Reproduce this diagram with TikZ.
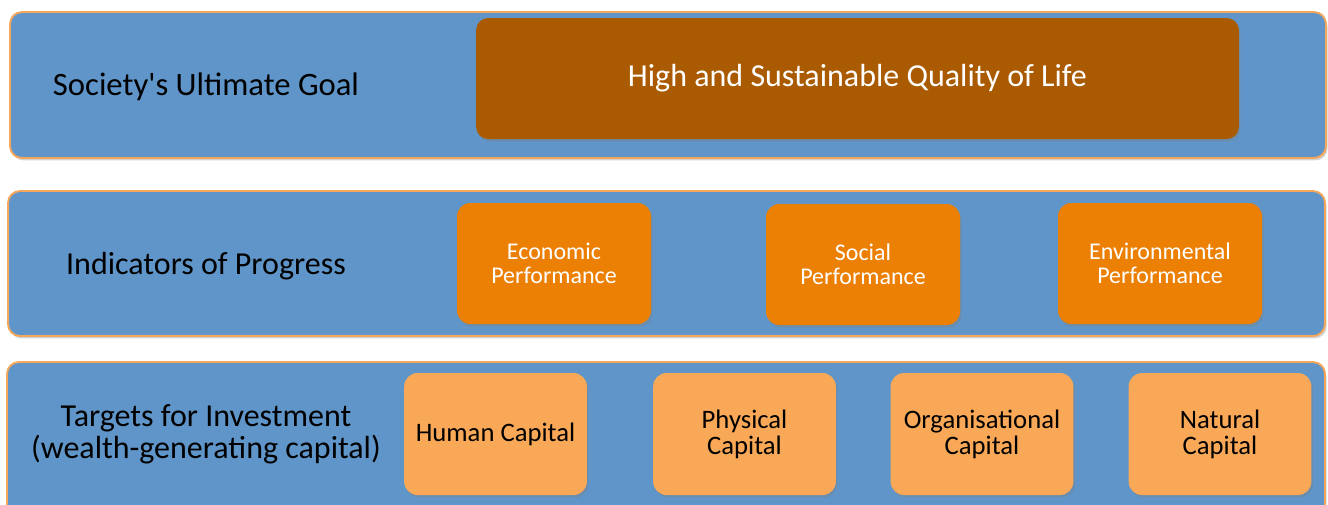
\documentclass[tikz,border=0pt]{standalone}
\usepackage{fontspec}
\setmainfont{Carlito}
\usetikzlibrary{shadows}
\definecolor{bandblue}{HTML}{5F95C8}
\definecolor{bandedge}{HTML}{F6A75A}
\definecolor{goalbrown}{HTML}{AA5A00}
\definecolor{indorange}{HTML}{EC8004}
\definecolor{caporange}{HTML}{F9A857}
\begin{document}
\begin{tikzpicture}[x=0.75pt,y=-0.75pt]
    \tikzstyle{boxshadow}=[drop shadow={shadow xshift=1.2pt,shadow yshift=-1.8pt,opacity=0.35}]
    \tikzstyle{band}=[rectangle,rounded corners=9pt,fill=bandblue,draw=bandedge,line width=1.4pt,boxshadow]
    \tikzstyle{bandlabel}=[align=center,text=black]
    \tikzstyle{goalbox}=[rectangle,rounded corners=9pt,fill=goalbrown,text=white,minimum width=572pt,minimum height=90.75pt,boxshadow,font=\fontsize{24}{29}\selectfont]
    \tikzstyle{indbox}=[rectangle,rounded corners=10pt,fill=indorange,text=white,align=center,minimum height=90.75pt,boxshadow,font=\fontsize{18}{18}\selectfont]
    \tikzstyle{capbox}=[rectangle,rounded corners=10pt,fill=caporange,text=black,align=center,minimum width=137pt,minimum height=91.5pt,boxshadow,font=\fontsize{20}{19.5}\selectfont]
    \useasboundingbox (0, 0) rectangle (1328, 504);
    \clip (0, 0) rectangle (1328, 504);

    % the three bands
    \node at (668, 85)    (goalband) [band,minimum width=987pt,minimum height=109.5pt] {};
    \node at (666.5, 263.5) (indband) [band,minimum width=987.75pt,minimum height=108.75pt] {};
    \node at (666, 442)   (capband) [band,minimum width=988.5pt,minimum height=120pt] {};

    % band labels
    \node at (206, 87)  (goallabel) [bandlabel,font=\fontsize{24.5}{29}\selectfont] {Society\textquotesingle s Ultimate Goal};
    \node at (206, 266) (indlabel) [bandlabel,font=\fontsize{24}{28}\selectfont] {Indicators of Progress};
    \node at (206, 434) (caplabel) [bandlabel,font=\fontsize{24}{24}\selectfont] {Targets for Investment\\(wealth-generating capital)};

    % goal
    \node at (857.5, 78.5) (goal) [goalbox] {High and Sustainable Quality of Life};

    % indicators
    \node at (554, 263.5)  (econ) [indbox,minimum width=145.5pt] {Economic\\Performance};
    \node at (863, 264.5)  (social) [indbox,minimum width=145.5pt] {Social\\Performance};
    \node at (1160, 263.5) (env) [indbox,minimum width=153pt] {Environmental\\Performance};

    % capitals
    \node at (495.5, 434) (human) [capbox] {Human Capital};
    \node at (744.5, 434) (physical) [capbox] {Physical\\Capital};
    \node at (982, 434)   (organisational) [capbox] {Organisational\\Capital};
    \node at (1220, 434)  (natural) [capbox] {Natural\\Capital};
\end{tikzpicture}
\end{document}
